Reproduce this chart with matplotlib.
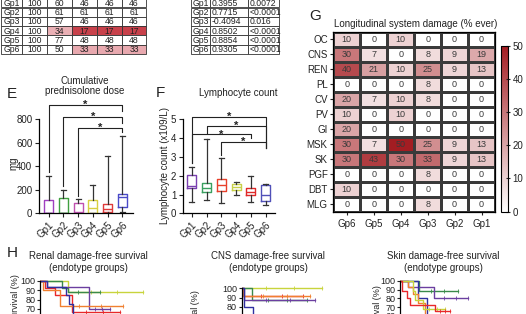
import matplotlib
matplotlib.use('Agg')
import matplotlib.pyplot as plt
import numpy as np
from matplotlib.colors import LinearSegmentedColormap, Normalize
from matplotlib.patches import Rectangle

plt.rcParams['font.family'] = ['Liberation Sans', 'DejaVu Sans']

# ---------------- data ----------------
groups = ['Gp1', 'Gp2', 'Gp3', 'Gp4', 'Gp5', 'Gp6']
surv_table = [[100, 60, 46, 46, 46],
              [100, 61, 61, 61, 61],
              [100, 57, 46, 46, 46],
              [100, 34, 17, 17, 17],
              [100, 77, 48, 48, 48],
              [100, 50, 33, 33, 33]]
corr_r = ['0.3955', '0.7715', '-0.4094', '0.8502', '0.8854', '0.9305']
corr_p = ['0.0072', '<0.0001', '0.016', '<0.0001', '<0.0001', '<0.0001']

pred_whislo = [0, 0, 0, 0, 0, 10]
pred_q1 = [0, 0, 0, 0, 12, 55]
pred_med = [5, 5, 8, 42, 38, 139]
pred_q3 = [111, 128, 85, 111, 78, 167]
pred_whishi = [320, 195, 120, 238, 490, 660]

lym_whislo = [0.6, 0.7, 0.55, 0.95, 0.6, 0.45]
lym_q1 = [1.33, 1.15, 1.2, 1.25, 0.98, 0.65]
lym_med = [1.45, 1.35, 1.5, 1.4, 1.15, 1.0]
lym_q3 = [2.05, 1.6, 1.85, 1.55, 1.35, 1.5]
lym_whishi = [2.45, 3.95, 2.95, 1.65, 2.0, 1.55]

systems = ['OC', 'CNS', 'REN', 'PL', 'CV', 'PV', 'GI', 'MSK', 'SK', 'PGF', 'DBT', 'MLG']
heat_groups = ['Gp6', 'Gp5', 'Gp4', 'Gp3', 'Gp2', 'Gp1']
damage = [[10, 0, 10, 0, 0, 0],
          [30, 7, 0, 8, 9, 19],
          [40, 21, 10, 25, 9, 13],
          [0, 0, 0, 8, 0, 0],
          [20, 7, 10, 8, 0, 0],
          [10, 0, 10, 0, 0, 0],
          [20, 0, 0, 0, 0, 0],
          [30, 7, 50, 25, 9, 13],
          [30, 43, 30, 33, 9, 13],
          [0, 0, 0, 8, 0, 0],
          [10, 0, 0, 0, 0, 0],
          [0, 0, 0, 8, 0, 0]]

# Kaplan-Meier step data (time, survival %)
renal_km = {
    'yellow': ([0, 5.6, 20.6], [100, 88, 88]),
    'green': ([0, 4.3, 5.6, 12.0], [100, 92, 88, 88]),
    'purple': ([0, 1.3, 9.7, 14.0], [100, 94, 70, 70]),
    'red': ([0, 1.0, 3.0, 6.3, 16.0], [100, 92, 85, 67, 67]),
    'orange': ([0, 0.6, 4.0, 16.6], [100, 90, 73, 73]),
    'blue': ([0, 1.3, 5.2, 5.8, 6.5, 9.0], [100, 94, 85, 75, 50, 40]),
}
cns_km = {
    'yellow': ([0, 16.0], [100, 100]),
    'green': ([0, 2.0, 13.0], [100, 87, 87]),
    'red': ([0, 0.3, 12.3], [100, 92, 92]),
    'orange': ([0, 0.3, 13.7], [100, 92, 92]),
    'purple': ([0, 0.5, 14.7], [100, 87, 87]),
    'blue': ([0, 0.5, 2.2, 6.0], [100, 80, 40, 40]),
}
skin_km = {
    'green': ([0, 3.7, 11.7], [100, 88, 88]),
    'purple': ([0, 1.6, 6.7, 13.7], [100, 93, 80, 80]),
    'blue': ([0, 3.6, 5.3, 8.0], [100, 80, 60, 60]),
    'orange': ([0, 1.5, 2.5, 3.5, 5.0, 9.0], [100, 93, 85, 75, 60, 60]),
    'yellow': ([0, 2.5, 3.0, 4.5, 9.0], [100, 88, 78, 68, 68]),
    'red': ([0, 0.3, 1.3, 2.0, 7.0, 10.0], [100, 88, 80, 72, 65, 65]),
}
km_colors = {'purple': '#6b3fa0', 'green': '#3a8a4a', 'yellow': '#c8d43c',
             'red': '#e8282a', 'orange': '#f08030', 'blue': '#3030a0'}

colE = ['#a040c0', '#40a040', '#c050b0', '#d8d040', '#e03a3a', '#4a4ac8']
colF = ['#7a3fb0', '#3aa060', '#e8402a', '#c8d048', '#e02828', '#5050b8']

# ---------------- figure ----------------
W, H = 526, 314
fig = plt.figure(figsize=(W / 100, H / 100), dpi=100)


def axbox(x0, y0, x1, y1):
    return fig.add_axes([x0 / W, 1 - y1 / H, (x1 - x0) / W, (y1 - y0) / H])


def ftext(x, y, s, **kw):
    fig.text(x / W, 1 - y / H, s, **kw)


TXT = '#222222'

# ---------- left table ----------
tbl_cmap = LinearSegmentedColormap.from_list('tbl', ['#c8414b', '#eab0b5'])
tbl_norm = Normalize(17, 34)
widths = [21, 25, 25, 25, 25, 24]
edges = np.concatenate([[0], np.cumsum(widths)])
axT = axbox(1, -1.8, 1 + edges[-1], 54)
axT.set_xlim(0, edges[-1]); axT.set_ylim(6, 0); axT.axis('off')
for r in range(6):
    cells = [groups[r]] + [str(v) for v in surv_table[r]]
    for c in range(6):
        fc = 'white'
        if c > 0 and surv_table[r][c - 1] < 35:
            fc = tbl_cmap(tbl_norm(surv_table[r][c - 1]))
        axT.add_patch(Rectangle((edges[c], r), widths[c], 1, facecolor=fc,
                                edgecolor='#333333', linewidth=0.6, clip_on=False))
        axT.text((edges[c] + edges[c + 1]) / 2, r + 0.55, cells[c], ha='center',
                 va='center', fontsize=6.2, color=TXT)

# ---------- middle table ----------
widths2 = [19, 38, 31]
edges2 = np.concatenate([[0], np.cumsum(widths2)])
axM = axbox(191, -1.8, 191 + edges2[-1], 54)
axM.set_xlim(0, edges2[-1]); axM.set_ylim(6, 0); axM.axis('off')
for r in range(6):
    cells = [groups[r], corr_r[r], corr_p[r]]
    for c in range(3):
        axM.add_patch(Rectangle((edges2[c], r), widths2[c], 1, facecolor='white',
                                edgecolor='#333333', linewidth=0.6, clip_on=False))
        if c == 0:
            axM.text((edges2[0] + edges2[1]) / 2, r + 0.55, cells[c], ha='center',
                     va='center', fontsize=6.2, color=TXT)
        else:
            axM.text(edges2[c] + 1.2, r + 0.55, cells[c], ha='left',
                     va='center', fontsize=6.2, color=TXT)


# ---------- box plots ----------
def boxpanel(ax, lo, q1, med, q3, hi, cols):
    stats = [dict(whislo=lo[i], q1=q1[i], med=med[i], q3=q3[i], whishi=hi[i],
                  fliers=[]) for i in range(6)]
    bp = ax.bxp(stats, positions=range(1, 7), widths=0.6, capwidths=0.35,
                showfliers=False)
    for i, c in enumerate(cols):
        bp['boxes'][i].set(color=c, linewidth=1.0)
        bp['medians'][i].set(color=c, linewidth=1.0)
        for k in (2 * i, 2 * i + 1):
            bp['whiskers'][k].set(color='#333333', linewidth=0.9)
            bp['caps'][k].set(color='#333333', linewidth=0.9)
    for s in ('top', 'right'):
        ax.spines[s].set_visible(False)
    for s in ('left', 'bottom'):
        ax.spines[s].set_linewidth(0.9)
    ax.set_xticks(range(1, 7))
    ax.set_xticklabels(groups, rotation=45, ha='right', rotation_mode='anchor')
    ax.tick_params(labelsize=7, length=3, width=0.8, pad=2, colors='#222222')


def brackets(ax, br):
    for x1, x2, y, lb, rb in br:
        ax.plot([x1, x1, x2, x2], [lb, y, y, rb], color='#222222', lw=0.8,
                clip_on=False)
        ax.text((x1 + x2) / 2, y, '*', ha='center', va='center', fontsize=8,
                fontweight='bold', color='#222222')


axE = axbox(39.3, 100, 133, 213.3)
boxpanel(axE, pred_whislo, pred_q1, pred_med, pred_q3, pred_whishi, colE)
axE.set_xlim(0.36, 6.73); axE.set_ylim(0, 964)
axE.spines['left'].set_bounds(0, 800)
axE.set_yticks([0, 200, 400, 600, 800])
brackets(axE, [(1, 6, 922, 350, 870), (2, 6, 822, 230, 770), (3, 6, 723, 150, 690)])
ftext(85, 86, 'Cumulative\nprednisolone dose', ha='center', va='center',
      fontsize=7, color=TXT, linespacing=1.1)
ftext(7, 94, 'E', ha='left', va='center', fontsize=11, color=TXT)
ftext(13, 163, 'mg', ha='center', va='center', rotation=90, fontsize=7, color=TXT)

axF = axbox(183.3, 100, 275, 213.3)
boxpanel(axF, lym_whislo, lym_q1, lym_med, lym_q3, lym_whishi, colF)
axF.set_xlim(0.43, 6.63); axF.set_ylim(0, 6.03)
axF.spines['left'].set_bounds(0, 5)
axF.set_yticks([0, 1, 2, 3, 4, 5])
brackets(axF, [(1, 6, 5.14, 2.7, 3.5), (2, 6, 4.64, 4.3, 3.5),
               (1, 5, 4.2, 2.7, 4.0), (3, 6, 3.81, 3.1, 3.5)])
ftext(238, 93, 'Lymphocyte count', ha='center', va='center', fontsize=7, color=TXT)
ftext(156, 93, 'F', ha='left', va='center', fontsize=11, color=TXT)
ftext(165, 166, 'Lymphocyte count (x109/L)', ha='center', va='center',
      rotation=90, fontsize=7, color=TXT)

# ---------- heatmap ----------
hm_cmap = LinearSegmentedColormap.from_list('hm', ['#ffffff', '#a31d22'])
axG = axbox(333.3, 32, 495, 211.5)
mesh = axG.pcolormesh(np.array(damage), cmap=hm_cmap, vmin=0, vmax=50,
                      edgecolors='#3a3a3a', linewidth=0.8)
axG.set_xlim(0, 6); axG.set_ylim(12, 0)
for r in range(12):
    for c in range(6):
        axG.text(c + 0.5, r + 0.52, str(damage[r][c]), ha='center', va='center',
                 fontsize=6.5, color='#3a3a3a')
axG.set_xticks(np.arange(6) + 0.5)
axG.set_xticklabels(heat_groups)
axG.set_yticks(np.arange(12) + 0.5)
axG.set_yticklabels(systems)
axG.tick_params(labelsize=7, length=2.5, width=0.8, pad=1.5, colors='#222222')
axG.tick_params(axis='x', pad=3)
for s in axG.spines.values():
    s.set_linewidth(0.9)
ftext(416, 24, 'Longitudinal system damage (% ever)', ha='center', va='center',
      fontsize=7, color=TXT)
ftext(309, 16, 'G', ha='left', va='center', fontsize=11, color=TXT)

cax = axbox(501.3, 45.5, 508.3, 211.5)
cb = fig.colorbar(mesh, cax=cax, ticks=[0, 10, 20, 30, 40, 50])
cb.outline.set_linewidth(0.8)
cax.tick_params(labelsize=7, length=3, width=0.8, direction='inout', pad=1.5,
                colors='#222222')


# ---------- KM plots ----------
def km_axes(x0, x1, y100, px10, xmax, data, title, tx, ylx, yly):
    top = y100 - 0.5 * px10
    bot = y100 + 10 * px10
    ax = axbox(x0, top, x1, bot)
    ax.set_xlim(0, xmax); ax.set_ylim(0, 105)
    for name, (t, s) in data.items():
        ax.step(t, s, where='post', color=km_colors[name], lw=1.0)
        tc = np.linspace(t[-2] + (t[-1] - t[-2]) * 0.3, t[-1], 3)
        ax.plot(tc, [s[-1]] * 3, ls='none', marker='|', ms=2.5, mew=0.6,
                color=km_colors[name])
    for s in ('top', 'right'):
        ax.spines[s].set_visible(False)
    ax.spines['left'].set_bounds(0, 100)
    ax.spines['left'].set_linewidth(0.9)
    ax.set_yticks(range(60, 101, 10))
    ax.set_xticks([])
    ax.tick_params(labelsize=6.5, length=2.5, width=0.8, pad=1, colors='#222222')
    ftext(tx, 262, title, ha='center', va='center', fontsize=7, color=TXT,
          linespacing=1.15)
    ftext(ylx, yly, 'Survival (%)', ha='center', va='center', rotation=90,
          fontsize=6.5, color=TXT)
    return ax


km_axes(40, 150, 281, 9.3, 22, renal_km,
        'Renal damage-free survival\n(endotype groups)', 88, 15.5, 299)
km_axes(241.7, 331.7, 288, 9.5, 18, cns_km,
        'CNS damage-free survival\n(endotype groups)', 268, 196, 315)
km_axes(400, 480, 281, 8.7, 16, skin_km,
        'Skin damage-free survival\n(endotype groups)', 443, 377, 310)
ftext(7, 253, 'H', ha='left', va='center', fontsize=11, color=TXT)

fig.savefig('out.png', dpi=100)
